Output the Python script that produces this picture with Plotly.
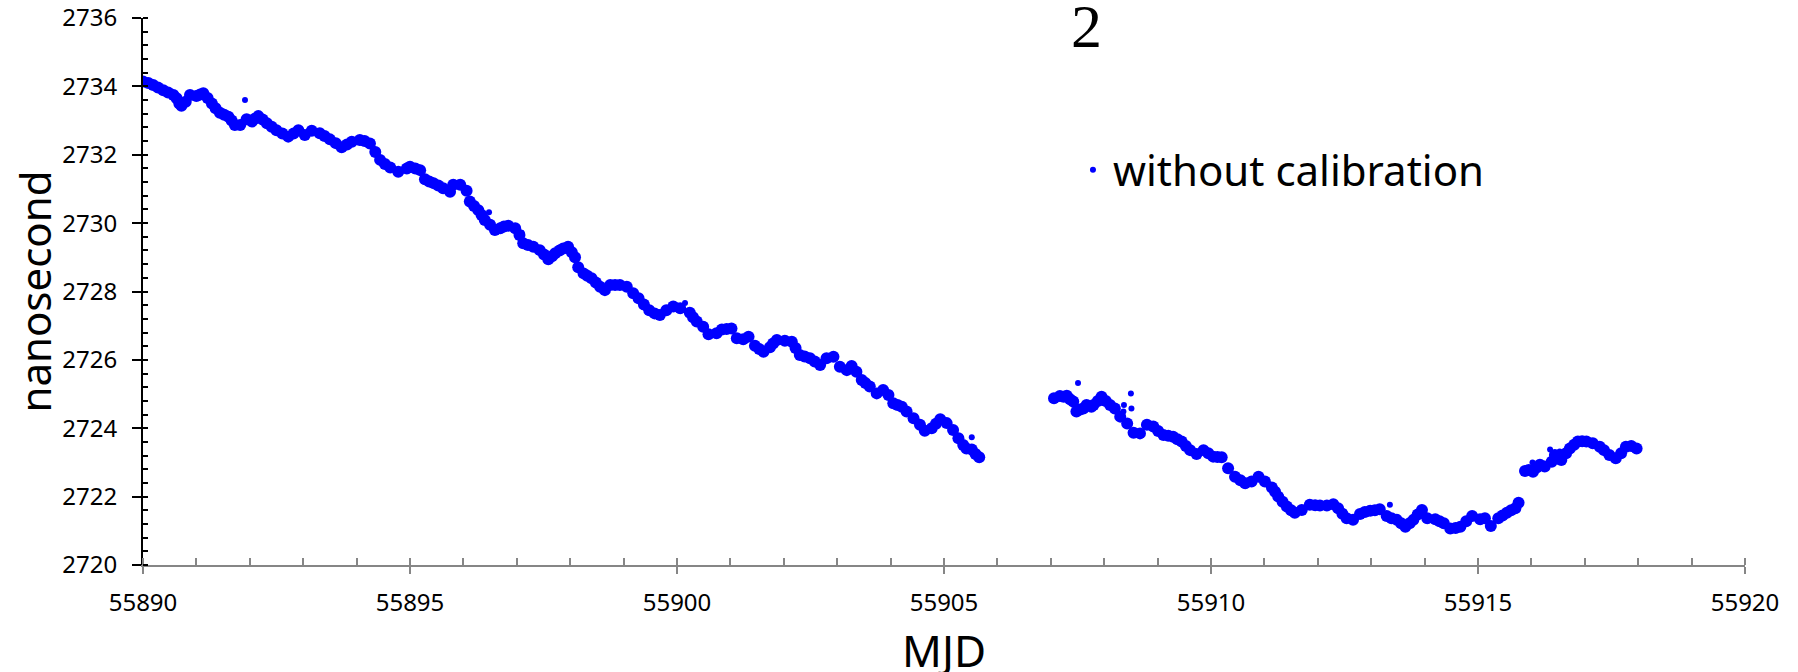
import plotly.graph_objects as go

# ---- data (MJD, nanoseconds) ----
mjd_main = [
    55890.00, 55890.10, 55890.19, 55890.28, 55890.38, 55890.47, 55890.57, 55890.63, 55890.68, 55890.72,
    55890.80, 55890.88, 55891.00, 55891.07, 55891.13, 55891.21, 55891.29, 55891.36, 55891.44, 55891.52,
    55891.60, 55891.66, 55891.72, 55891.82, 55891.94, 55892.04, 55892.10, 55892.16, 55892.24, 55892.32,
    55892.41, 55892.50, 55892.61, 55892.72, 55892.82, 55892.91, 55893.03, 55893.16, 55893.31, 55893.40,
    55893.50, 55893.61, 55893.72, 55893.82, 55893.91, 55894.06, 55894.15, 55894.25, 55894.35, 55894.44,
    55894.53, 55894.63, 55894.78, 55894.94, 55895.00, 55895.10, 55895.19, 55895.28, 55895.36, 55895.44,
    55895.53, 55895.62, 55895.75, 55895.81, 55895.94, 55896.06, 55896.12, 55896.20, 55896.28, 55896.34,
    55896.40, 55896.50, 55896.59, 55896.69, 55896.76, 55896.84, 55896.97, 55897.05, 55897.12, 55897.21,
    55897.31, 55897.43, 55897.51, 55897.59, 55897.66, 55897.72, 55897.80, 55897.87, 55897.96, 55898.03,
    55898.09, 55898.15, 55898.25, 55898.32, 55898.40, 55898.48, 55898.56, 55898.65, 55898.75, 55898.84,
    55898.93, 55899.06, 55899.18, 55899.28, 55899.38, 55899.48, 55899.58, 55899.68, 55899.80, 55899.93,
    55900.06, 55900.24, 55900.30, 55900.37, 55900.49, 55900.59, 55900.74, 55900.84, 55900.93, 55901.02,
    55901.12, 55901.24, 55901.34, 55901.46, 55901.54, 55901.62, 55901.74, 55901.80, 55901.87, 55902.02,
    55902.15, 55902.22, 55902.30, 55902.39, 55902.49, 55902.58, 55902.68, 55902.80, 55902.93, 55903.05,
    55903.18, 55903.27, 55903.36, 55903.46, 55903.53, 55903.61, 55903.74, 55903.86, 55903.96, 55904.05,
    55904.13, 55904.21, 55904.30, 55904.43, 55904.55, 55904.64, 55904.77, 55904.85, 55904.93, 55905.05,
    55905.17, 55905.27, 55905.36, 55905.42, 55905.52, 55905.59, 55905.66,
    55907.06, 55907.17, 55907.24, 55907.30, 55907.36, 55907.42, 55907.48, 55907.55, 55907.61, 55907.67,
    55907.76, 55907.80, 55907.88, 55907.95, 55908.03, 55908.11, 55908.20, 55908.30, 55908.43, 55908.55,
    55908.67, 55908.80, 55908.92, 55909.01, 55909.11, 55909.20, 55909.29, 55909.37, 55909.45, 55909.53,
    55909.61, 55909.73, 55909.86, 55909.95, 55910.04, 55910.12, 55910.20, 55910.32, 55910.45, 55910.55,
    55910.64, 55910.76, 55910.89, 55911.01, 55911.14, 55911.20, 55911.26, 55911.34, 55911.42, 55911.50,
    55911.57, 55911.70, 55911.85, 55911.95, 55912.04, 55912.17, 55912.29, 55912.38, 55912.46, 55912.54,
    55912.66, 55912.79, 55912.88, 55912.98, 55913.07, 55913.16, 55913.29, 55913.38, 55913.48, 55913.56,
    55913.64, 55913.72, 55913.79, 55913.87, 55913.95, 55914.05, 55914.20, 55914.28, 55914.36, 55914.48,
    55914.58, 55914.67, 55914.78, 55914.89, 55915.04, 55915.13, 55915.24, 55915.38, 55915.46, 55915.54,
    55915.62, 55915.70, 55915.76,
    55915.88, 55915.95, 55916.03, 55916.10, 55916.16, 55916.25, 55916.38, 55916.44, 55916.56, 55916.65,
    55916.72, 55916.80, 55916.87, 55916.95, 55917.03, 55917.15, 55917.28, 55917.36, 55917.46, 55917.58,
    55917.68, 55917.77, 55917.87, 55917.97,
]
ns_main = [
    2734.14, 2734.10, 2734.04, 2733.97, 2733.89, 2733.82, 2733.75, 2733.65, 2733.50, 2733.43,
    2733.55, 2733.75, 2733.72, 2733.76, 2733.80, 2733.66, 2733.50, 2733.36, 2733.23, 2733.17,
    2733.11, 2733.00, 2732.87, 2732.87, 2733.04, 2732.97, 2733.06, 2733.13, 2733.03, 2732.92,
    2732.82, 2732.72, 2732.62, 2732.53, 2732.62, 2732.72, 2732.58, 2732.70, 2732.63, 2732.55,
    2732.45, 2732.34, 2732.22, 2732.30, 2732.38, 2732.43, 2732.40, 2732.33, 2732.08, 2731.85,
    2731.73, 2731.63, 2731.50, 2731.60, 2731.65, 2731.60, 2731.55, 2731.28, 2731.22, 2731.17,
    2731.10, 2731.02, 2730.92, 2731.12, 2731.12, 2730.95, 2730.63, 2730.50, 2730.38, 2730.24,
    2730.09, 2729.95, 2729.80, 2729.85, 2729.90, 2729.92, 2729.85, 2729.65, 2729.41, 2729.36,
    2729.31, 2729.21, 2729.08, 2728.94, 2729.03, 2729.12, 2729.20, 2729.26, 2729.31, 2729.15,
    2729.00, 2728.71, 2728.53, 2728.46, 2728.39, 2728.26, 2728.14, 2728.04, 2728.19, 2728.19,
    2728.19, 2728.14, 2727.95, 2727.80, 2727.62, 2727.45, 2727.36, 2727.31, 2727.45, 2727.56,
    2727.51, 2727.38, 2727.25, 2727.12, 2726.97, 2726.75, 2726.78, 2726.89, 2726.90, 2726.92,
    2726.63, 2726.60, 2726.68, 2726.41, 2726.32, 2726.24, 2726.37, 2726.48, 2726.58, 2726.56,
    2726.53, 2726.35, 2726.14, 2726.10, 2726.05, 2725.95, 2725.85, 2726.05, 2726.09, 2725.80,
    2725.70, 2725.82, 2725.65, 2725.41, 2725.32, 2725.22, 2725.02, 2725.12, 2724.97, 2724.73,
    2724.68, 2724.63, 2724.49, 2724.29, 2724.10, 2723.93, 2724.00, 2724.13, 2724.26, 2724.15,
    2723.95, 2723.71, 2723.51, 2723.41, 2723.38, 2723.25, 2723.15,
    2724.88, 2724.94, 2724.92, 2724.95, 2724.85, 2724.78, 2724.49, 2724.55, 2724.58, 2724.68,
    2724.63, 2724.68, 2724.80, 2724.92, 2724.80, 2724.68, 2724.58, 2724.34, 2724.14, 2723.87,
    2723.85, 2724.10, 2724.05, 2723.92, 2723.80, 2723.78, 2723.75, 2723.68, 2723.61, 2723.48,
    2723.36, 2723.25, 2723.36, 2723.27, 2723.17, 2723.16, 2723.15, 2722.83, 2722.58, 2722.48,
    2722.39, 2722.44, 2722.58, 2722.44, 2722.27, 2722.14, 2722.00, 2721.85, 2721.71, 2721.60,
    2721.53, 2721.61, 2721.76, 2721.75, 2721.74, 2721.74, 2721.78, 2721.66, 2721.50, 2721.37,
    2721.32, 2721.49, 2721.55, 2721.59, 2721.60, 2721.63, 2721.43, 2721.37, 2721.32, 2721.22,
    2721.12, 2721.22, 2721.32, 2721.48, 2721.61, 2721.37, 2721.34, 2721.28, 2721.22, 2721.07,
    2721.08, 2721.12, 2721.28, 2721.43, 2721.34, 2721.37, 2721.14, 2721.37, 2721.45, 2721.53,
    2721.60, 2721.66, 2721.82,
    2722.75, 2722.78, 2722.73, 2722.85, 2722.93, 2722.88, 2723.02, 2723.22, 2723.07, 2723.27,
    2723.41, 2723.52, 2723.61, 2723.62, 2723.61, 2723.56, 2723.46, 2723.36, 2723.22, 2723.12,
    2723.27, 2723.46, 2723.48, 2723.41,
]

# isolated (scattered) samples
mjd_scatter = [55891.91, 55896.48, 55897.09, 55900.15, 55905.52, 55907.51, 55908.36, 55908.37,
               55908.50, 55908.51, 55913.35, 55916.02, 55916.35, 55916.53]
ns_scatter = [2733.60, 2730.32, 2729.72, 2727.66, 2723.74, 2725.32, 2724.49, 2724.68,
              2725.02, 2724.58, 2721.76, 2723.00, 2723.38, 2723.32]

x_range = [55890, 55920]
y_range = [2720, 2736]
series_name = "without calibration"
title_text = "2"
x_title = "MJD"
y_title = "nanosecond"

BLUE = "#0000FF"
FONT = "Noto Sans"

fig = go.Figure()
fig.add_trace(go.Scatter(
    x=mjd_main, y=ns_main, mode="markers", showlegend=False,
    marker=dict(color=BLUE, size=12, line=dict(width=0)),
))
fig.add_trace(go.Scatter(
    x=mjd_scatter, y=ns_scatter, mode="markers", name=series_name,
    marker=dict(color=BLUE, size=6, line=dict(width=0)),
))

fig.update_layout(
    width=1798, height=672,
    margin=dict(l=143, r=53, t=18, b=107, autoexpand=False),
    paper_bgcolor="white", plot_bgcolor="white",
    font=dict(family=FONT, color="black"),
    showlegend=True,
    legend=dict(x=0.5805, y=0.722, xanchor="left", yanchor="middle",
                font=dict(family=FONT, size=42, color="black"),
                bgcolor="rgba(0,0,0,0)"),
    xaxis=dict(
        range=x_range, dtick=5, tick0=55890, tickformat="d", automargin=False,
        showgrid=False, zeroline=False,
        showline=True, linecolor="#868686", linewidth=2,
        ticks="outside", ticklen=7, tickwidth=2, tickcolor="#868686",
        tickfont=dict(family=FONT, size=24, color="black"),
        ticklabelstandoff=8, ticklabeloverflow="allow",
        minor=dict(dtick=1, tick0=55890, ticks="inside", ticklen=7, tickwidth=2,
                   tickcolor="#868686", showgrid=False),
    ),
    xaxis2=dict(
        range=x_range, overlaying="x", anchor="y", side="bottom", automargin=False,
        dtick=5, tick0=55890, showgrid=False, zeroline=False, showline=False,
        ticks="inside", ticklen=7, tickwidth=2, tickcolor="#868686", showticklabels=False,
    ),
    yaxis=dict(
        range=y_range, dtick=2, tick0=2720, tickformat="d", automargin=False,
        showgrid=False, zeroline=False,
        showline=True, linecolor="black", linewidth=2,
        ticks="outside", ticklen=9, tickwidth=2, tickcolor="black",
        tickfont=dict(family=FONT, size=24, color="black"),
        ticklabelstandoff=10, ticklabeloverflow="allow",
        minor=dict(dtick=0.4, tick0=2720, ticks="inside", ticklen=5, tickwidth=2,
                   tickcolor="black", showgrid=False),
    ),
    annotations=[
        dict(text=title_text, xref="paper", yref="paper", x=0.589, y=0.985,
             xanchor="center", yanchor="middle", showarrow=False,
             font=dict(family="Liberation Serif", size=62, color="black")),
        dict(text=x_title, xref="paper", yref="paper", x=0.5, y=-0.155,
             xanchor="center", yanchor="middle", showarrow=False,
             font=dict(family=FONT, size=44, color="black")),
        dict(text=y_title, xref="paper", yref="paper", x=-0.068, y=0.5,
             xanchor="center", yanchor="middle", showarrow=False, textangle=-90,
             font=dict(family=FONT, size=42, color="black")),
    ],
)

# remove the browser's default 8px page margin so the figure fills the window exactly
fig.write_html(
    "out.html",
    config={"displayModeBar": False},
    post_script="document.body.style.margin='0';document.body.style.overflow='hidden';",
)
